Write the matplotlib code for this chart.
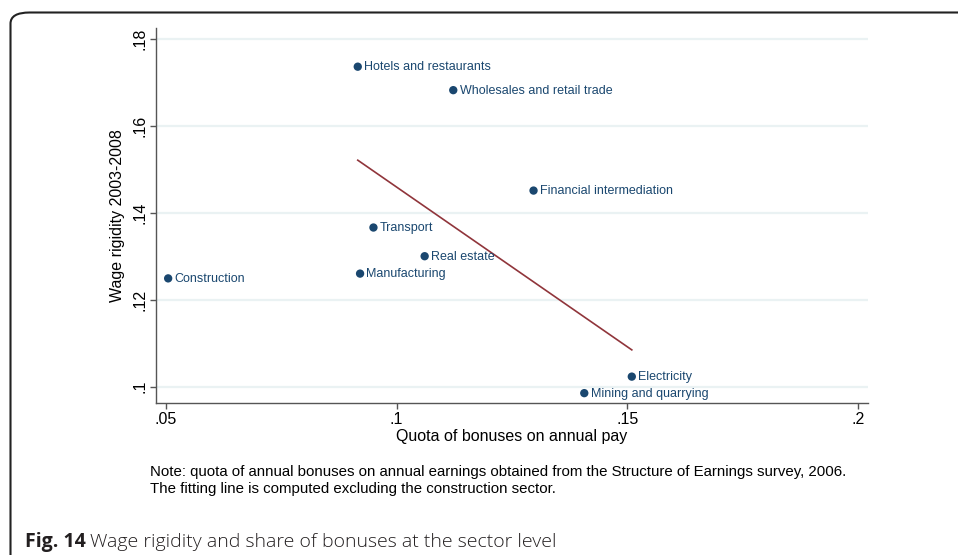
import numpy as np
import matplotlib
matplotlib.use("Agg")
import matplotlib.pyplot as plt
from matplotlib.patches import FancyBboxPatch

# Data
sectors = ["Hotels and restaurants", "Wholesales and retail trade", "Financial intermediation",
           "Transport", "Real estate", "Manufacturing", "Construction",
           "Electricity", "Mining and quarrying"]
bonus_share = [0.0916, 0.1123, 0.1297, 0.0950, 0.1061, 0.0921, 0.0505, 0.1510, 0.1407]
wage_rigidity = [0.1736, 0.1682, 0.1451, 0.1366, 0.1300, 0.1260, 0.1249, 0.1023, 0.0985]
x_ticks = [0.05, 0.1, 0.15, 0.2]
x_tick_labels = [".05", ".1", ".15", ".2"]
y_ticks = [0.10, 0.12, 0.14, 0.16, 0.18]
y_tick_labels = [".1", ".12", ".14", ".16", ".18"]

W, H = 958, 555
fig = plt.figure(figsize=(W / 100, H / 100), dpi=100)
plt.rcParams['font.family'] = ['Liberation Sans', 'DejaVu Sans']

# Outer rounded frame
frame = FancyBboxPatch((10.5 / W, -0.2), 1.2, 1 - 12.5 / H + 0.2,
                       boxstyle="round,pad=0,rounding_size=0.02",
                       transform=fig.transFigure, fill=False, ec="#222222", lw=1.5,
                       clip_on=False)
fig.patches.append(frame)

ax = fig.add_axes([155.7 / W, 1 - 402.7 / H, (868 - 155.7) / W, (402.7 - 28) / H])
ax.set_xlim(0.0478, 0.2022)
ax.set_ylim(0.0963, 0.1825)

navy = "#1a476f"
maroon = "#90353b"

ax.set_yticks(y_ticks)
ax.set_yticklabels(y_tick_labels, rotation=90, va="center", fontsize=11.5)
ax.set_xticks(x_ticks)
ax.set_xticklabels(x_tick_labels, fontsize=11.5)
ax.grid(axis="y", color="#eaf2f3", lw=1.6)
ax.set_axisbelow(True)
for s in ["top", "right"]:
    ax.spines[s].set_visible(False)
for s in ["left", "bottom"]:
    ax.spines[s].set_color("#555555")
    ax.spines[s].set_linewidth(1.0)
ax.tick_params(axis="both", colors="#555555", labelcolor="black", length=4, width=1.0)
ax.tick_params(axis="y", pad=2)
ax.tick_params(axis="x", pad=3)

ax.scatter(bonus_share, wage_rigidity, s=36, color=navy, zorder=3, edgecolors="none")
for name, xv, yv in zip(sectors, bonus_share, wage_rigidity):
    ax.annotate(name, (xv, yv), xytext=(4.5, -0.5), textcoords="offset points",
                ha="left", va="center", fontsize=9, color=navy)

# Fitted line excluding construction
xs = np.array([x for x, n in zip(bonus_share, sectors) if n != "Construction"])
ys = np.array([y for y, n in zip(wage_rigidity, sectors) if n != "Construction"])
b, a = np.polyfit(xs, ys, 1)
xl = np.array([xs.min(), xs.max()])
ax.plot(xl, a + b * xl, color=maroon, lw=1.2, zorder=2)

ax.set_xlabel("Quota of bonuses on annual pay", fontsize=11.5, labelpad=1)
ax.set_ylabel("Wage rigidity 2003-2008", fontsize=11.5, labelpad=5)

fig.text(150 / W, 1 - 472 / H,
         "Note: quota of annual bonuses on annual earnings obtained from the Structure of Earnings survey, 2006.",
         fontsize=10.8, va="center", ha="left", family=['Liberation Sans'])
fig.text(150 / W, 1 - 489.5 / H,
         "The fitting line is computed excluding the construction sector.",
         fontsize=10.8, va="center", ha="left", family=['Liberation Sans'])

# Caption
cap_y = 1 - 542 / H
t1 = fig.text(25 / W, cap_y, "Fig. 14", fontsize=14, fontweight="bold",
              va="center", ha="left", family=['Open Sans', 'DejaVu Sans'], color="#231f20")
fig.canvas.draw()
r = fig.canvas.get_renderer()
bb = t1.get_window_extent(renderer=r)
fig.text((bb.x1 + 4) / W, cap_y, "Wage rigidity and share of bonuses at the sector level",
         fontsize=14, va="center", ha="left", family=['Open Sans', 'DejaVu Sans'],
         color="#231f20", fontweight="light")

fig.savefig("out.png", dpi=100)
